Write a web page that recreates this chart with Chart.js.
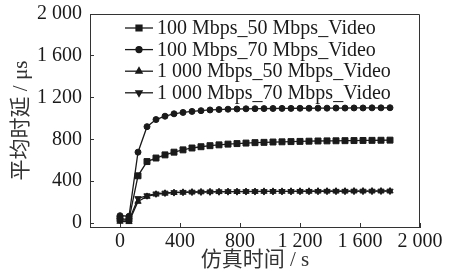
<!DOCTYPE html>
<html>
<head>
<meta charset="utf-8">
<script src="https://cdn.jsdelivr.net/npm/chart.js@4/dist/chart.umd.min.js"></script>
<style>
  html, body { margin: 0; padding: 0; background: #fff; }
  #wrap { width: 450px; height: 278px; }
</style>
</head>
<body>
<div id="wrap"><canvas id="myChart" width="450" height="278"></canvas></div>
<script>
// simulation time (s)
const times = [0, 60, 120, 180, 240, 300, 360, 420, 480, 540, 600, 660, 720, 780, 840, 900,
  960, 1020, 1080, 1140, 1200, 1260, 1320, 1380, 1440, 1500, 1560, 1620, 1680, 1740, 1800];

const seriesNames = ['100 Mbps_50 Mbps_Video', '100 Mbps_70 Mbps_Video',
  '1 000 Mbps_50 Mbps_Video', '1 000 Mbps_70 Mbps_Video'];

// average delay (us)
const delay100_50 = [40, 35, 452, 588, 622, 652, 678, 700, 718, 730, 740, 748, 755, 760, 765, 769,
  772, 775, 777, 779, 781, 783, 785, 786, 787, 788, 789, 790, 791, 792, 793];
const delay100_70 = [70, 65, 678, 922, 990, 1022, 1045, 1058, 1068, 1075, 1082, 1086, 1089, 1091, 1093, 1094,
  1095, 1096, 1097, 1097, 1098, 1098, 1099, 1099, 1100, 1100, 1101, 1101, 1102, 1102, 1103];
const delay1000_50 = [15, 12, 206, 254, 275, 284, 290, 293, 295, 297, 298, 299, 300, 300, 301, 301,
  302, 302, 302, 303, 303, 303, 304, 304, 304, 304, 305, 305, 305, 305, 305];
const delay1000_70 = [30, 25, 235, 262, 280, 288, 292, 295, 297, 298, 299, 300, 301, 301, 302, 302,
  302, 303, 303, 303, 304, 304, 304, 305, 305, 305, 306, 306, 306, 307, 307];

const xTicks = [0, 400, 800, 1200, 1600, 2000];
const xTickLabels = ['0', '400', '800', '1 200', '1 600', '2 000'];
const yTicks = [0, 400, 800, 1200, 1600, 2000];
const yTickLabels = ['0', '400', '800', '1 200', '1 600', '2 000'];

const ink = '#1a1a1a';
const serif = "'Liberation Serif', 'Noto Sans CJK SC', serif";

const markers = [
  { style: 'rect', radius: 4.2, rotation: 0 },
  { style: 'circle', radius: 3, rotation: 0 },
  { style: 'triangle', radius: 3.6, rotation: 0 },
  { style: 'triangle', radius: 3.6, rotation: 180 }
];

const allSeries = [delay100_50, delay100_70, delay1000_50, delay1000_70];

const datasets = allSeries.map((vals, i) => ({
  label: seriesNames[i],
  data: times.map((t, k) => ({ x: t, y: vals[k] })),
  borderColor: ink,
  backgroundColor: ink,
  borderWidth: 1.3,
  pointStyle: markers[i].style,
  pointRadius: markers[i].radius,
  pointRotation: markers[i].rotation,
  pointBorderWidth: 1,
  tension: 0
}));

// top and right sides of the box
const frame = {
  id: 'frame',
  afterDraw(chart) {
    const { ctx, chartArea: a } = chart;
    ctx.save();
    ctx.strokeStyle = '#333';
    ctx.lineWidth = 1;
    ctx.beginPath();
    ctx.moveTo(a.left, a.top + 0.5);
    ctx.lineTo(a.right - 0.5, a.top + 0.5);
    ctx.lineTo(a.right - 0.5, a.bottom);
    ctx.stroke();
    ctx.restore();
  }
};

// legend inside the plot, line + marker in front of each name
const insideLegend = {
  id: 'insideLegend',
  afterDraw(chart) {
    const { ctx, chartArea: a } = chart;
    ctx.save();
    ctx.font = '20px ' + serif;
    ctx.textBaseline = 'middle';
    ctx.textAlign = 'left';
    chart.data.datasets.forEach((d, i) => {
      const y = a.top + 14 + i * 21.6;
      const x0 = a.left + 35;
      ctx.strokeStyle = ink;
      ctx.fillStyle = ink;
      ctx.lineWidth = 1.3;
      ctx.beginPath();
      ctx.moveTo(x0, y);
      ctx.lineTo(x0 + 28, y);
      ctx.stroke();
      Chart.helpers.drawPoint(ctx, { pointStyle: markers[i].style, radius: markers[i].radius,
        rotation: markers[i].rotation, borderWidth: 1 }, x0 + 14, y);
      ctx.fillStyle = ink;
      ctx.fillText(d.label, x0 + 32, y + 1);
    });
    ctx.restore();
  }
};

const ctx = document.getElementById('myChart').getContext('2d');
new Chart(ctx, {
  type: 'line',
  data: { datasets: datasets },
  options: {
    responsive: false,
    animation: false,
    layout: { padding: { left: 0, right: 30, top: 14, bottom: 0 } },
    plugins: {
      tooltip: { enabled: false },
      legend: { display: false }
    },
    scales: {
      x: {
        type: 'linear',
        min: -200,
        max: 2000,
        afterBuildTicks: s => { s.ticks = xTicks.map(v => ({ value: v })); },
        afterFit: s => { s.height = 51; s.paddingLeft = 0; s.paddingRight = 0; },
        grid: { drawOnChartArea: false, tickLength: -4, color: '#333' },
        border: { color: '#333', width: 1 },
        ticks: {
          padding: 7,
          color: ink,
          font: { family: serif, size: 20 },
          maxRotation: 0,
          callback: (v, i) => xTickLabels[i]
        },
        title: {
          display: true,
          text: '仿真时间 / s',
          color: '#333',
          font: { family: serif, size: 21 },
          padding: { top: 0, bottom: 5 }
        }
      },
      y: {
        min: -38,
        max: 2000,
        afterBuildTicks: s => { s.ticks = yTicks.map(v => ({ value: v })); },
        afterFit: s => { s.width = 90; s.paddingTop = 0; s.paddingBottom = 0; },
        grid: { drawOnChartArea: false, tickLength: -4, color: '#333' },
        border: { color: '#333', width: 1 },
        ticks: {
          padding: 12,
          color: ink,
          font: { family: serif, size: 20 },
          callback: (v, i) => yTickLabels[i]
        },
        title: {
          display: true,
          text: '平均时延 / μs',
          color: '#333',
          font: { family: serif, size: 21 },
          padding: { top: 9, bottom: 0 }
        }
      }
    }
  },
  plugins: [frame, insideLegend]
});
</script>
</body>
</html>
